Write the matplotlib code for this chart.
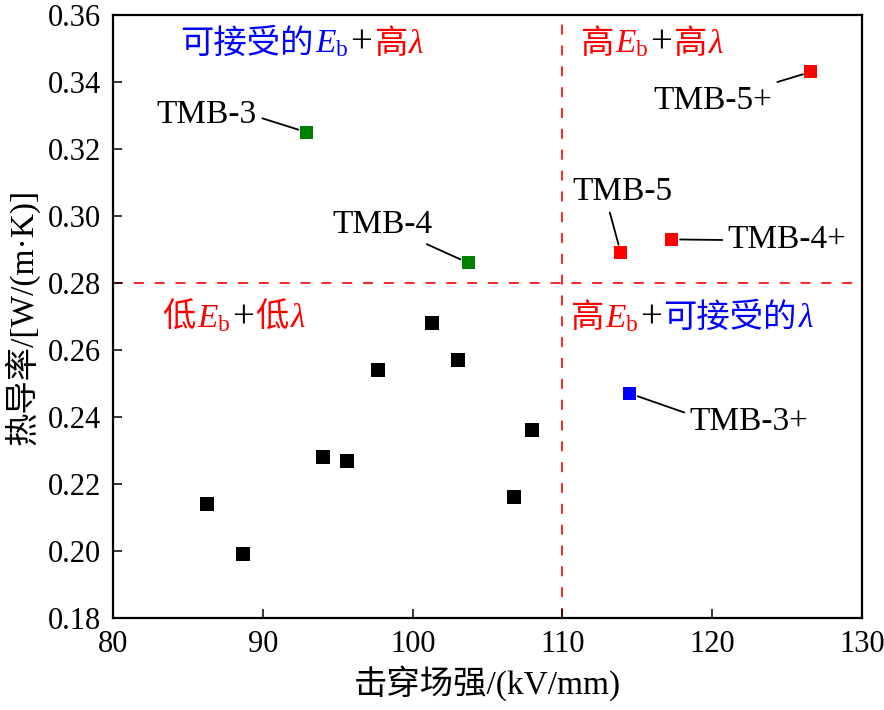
import matplotlib
matplotlib.use("Agg")
import matplotlib.pyplot as plt
from matplotlib.offsetbox import TextArea, HPacker, AnnotationBbox

plt.rcParams['font.family'] = ['Liberation Serif', 'Noto Sans CJK SC']
plt.rcParams['mathtext.fontset'] = 'custom'
plt.rcParams['mathtext.rm'] = 'Liberation Serif'
plt.rcParams['mathtext.it'] = 'Liberation Serif:italic'
plt.rcParams['mathtext.bf'] = 'Liberation Serif:bold'

# data: breakdown field strength (kV/mm) vs thermal conductivity W/(m*K)
base_x = [86.3, 88.7, 94.0, 95.6, 97.7, 101.3, 103.0, 106.8, 108.0]
base_y = [0.214, 0.199, 0.228, 0.227, 0.254, 0.268, 0.257, 0.216, 0.236]

names = ['TMB-3', 'TMB-4', 'TMB-5', 'TMB-5+', 'TMB-4+', 'TMB-3+']
named_x = [92.9, 103.7, 113.9, 126.6, 117.3, 114.5]
named_y = [0.325, 0.286, 0.289, 0.343, 0.293, 0.247]
named_c = ['#008000', '#008000', '#FF0000', '#FF0000', '#FF0000', '#0000FF']

# label text anchor, alignment and where the leader line leaves the text
label_xy = [(89.6, 0.3301), (101.3, 0.2973), (114.0, 0.3072),
            (116.05, 0.3345), (121.05, 0.2928), (118.5, 0.2385)]
label_ha = ['right', 'right', 'center', 'left', 'left', 'left']
label_rel = [(1.0, 0.45), (0.86, 0.0), (0.36, 0.0),
             (0.96, 1.0), (0.0, 0.5), (0.0, 0.75)]

E_THR = 110
L_THR = 0.28

RED = '#FF0000'
BLUE = '#0000FF'
EB = r'$E_{\mathrm{b}}$'
LAM = r'$\lambda$'
quadrants = [
    ((84.5, 0.3516), [('可接受的', BLUE), (EB, BLUE), ('+', 'k'), ('高', RED), (LAM, RED)]),
    ((111.2, 0.3516), [('高', RED), (EB, RED), ('+', 'k'), ('高', RED), (LAM, RED)]),
    ((83.3, 0.2696), [('低', RED), (EB, RED), ('+', 'k'), ('低', RED), (LAM, RED)]),
    ((110.5, 0.2696), [('高', RED), (EB, RED), ('+', 'k'), ('可接受的', BLUE), (LAM, BLUE)]),
]

fig = plt.figure(figsize=(8.84, 7.10), dpi=100)
ax = fig.add_axes([0.128, 0.1296, 0.847, 0.8494])

ax.axvline(E_THR, color=RED, lw=1.2, ls=(0, (6, 6.5)), zorder=1)
ax.axhline(L_THR, color=RED, lw=1.2, ls=(0, (6, 6.5)), zorder=1)

ax.scatter(base_x, base_y, marker='s', s=88, c='k', linewidths=0, zorder=3)
ax.scatter(named_x, named_y, marker='s', s=88, c=named_c, linewidths=0, zorder=3)

for n, x, y, (tx, ty), ha, rel in zip(names, named_x, named_y, label_xy, label_ha, label_rel):
    ax.annotate(n, xy=(x, y), xytext=(tx, ty), ha=ha, va='center', fontsize=24,
                arrowprops=dict(arrowstyle='-', color='k', lw=1.3, relpos=rel,
                                shrinkA=2, shrinkB=6))

for (qx, qy), parts in quadrants:
    boxes = []
    for t, c in parts:
        fs = 28 if t == '+' else 24
        boxes.append(TextArea(t, textprops=dict(color=c, fontsize=fs)))
    pack = HPacker(children=boxes, align='baseline', pad=0, sep=1)
    ab = AnnotationBbox(pack, (qx, qy), xycoords='data', frameon=False,
                        box_alignment=(0, 0.5), pad=0)
    ax.add_artist(ab)

ax.set_xlim(80, 130)
ax.set_ylim(0.18, 0.36)
ax.set_xticks([80, 90, 100, 110, 120, 130])
ax.set_yticks([0.18, 0.20, 0.22, 0.24, 0.26, 0.28, 0.30, 0.32, 0.34, 0.36])
ax.set_yticklabels([f'{v:.2f}' for v in ax.get_yticks()])
ax.tick_params(direction='in', length=6.5, width=1.1, labelsize=22, pad=9,
               top=False, right=False)
for sp in ax.spines.values():
    sp.set_linewidth(1.6)

ax.set_xlabel('击穿场强/(kV/mm)', fontsize=24, labelpad=4)
ax.set_ylabel('热导率/[W/(m·K)]', fontsize=24, labelpad=6)

fig.savefig('out.png', dpi=100)
